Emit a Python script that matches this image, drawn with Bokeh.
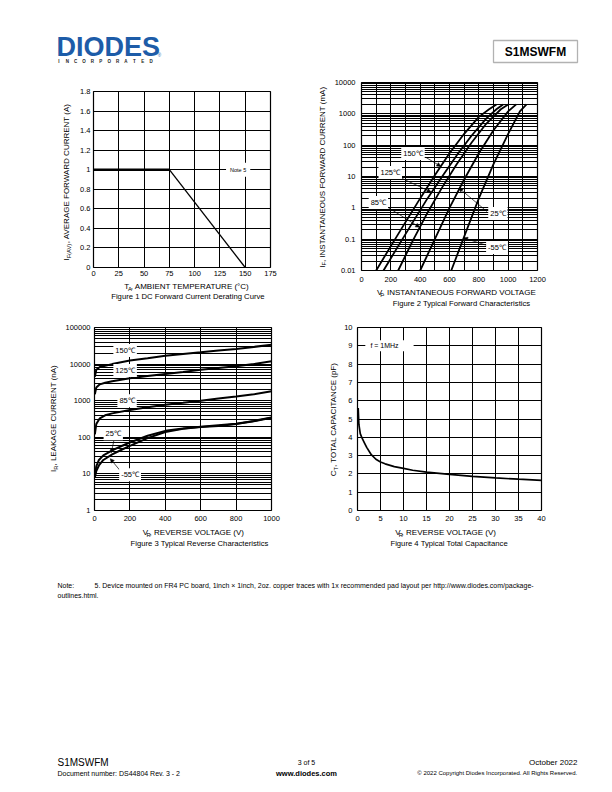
import math
from bokeh.plotting import figure
from bokeh.layouts import column, row
from bokeh.models import (Range1d, FixedTicker, CustomJSTickFormatter, Label, Arrow,
                          NormalHead, BoxAnnotation, Spacer)
from bokeh.core.properties import value
from bokeh.embed import file_html
from bokeh.resources import INLINE

FONT = "Liberation Sans"

# ---------------- data ----------------
# Figure 1: derating
derating_temp_c = [0, 75, 150]
derating_current_a = [1.0, 1.0, 0.0]
fig1_x_ticks = [0, 25, 50, 75, 100, 125, 150, 175]
fig1_y_ticks = [0, 0.2, 0.4, 0.6, 0.8, 1.0, 1.2, 1.4, 1.6, 1.8]

# Figure 2: forward characteristics (mV, mA)
fwd_labels = ["150℃", "125℃", "85℃", "25℃", "-55℃"]
fwd_v_150 = [100, 200, 300, 400, 500, 600, 700, 800, 870, 920]
fwd_i_150 = [0.01, 0.06, 0.35, 2.0, 11, 55, 230, 800, 1400, 2000]
fwd_v_125 = [150, 250, 350, 450, 550, 650, 750, 850, 920, 965]
fwd_i_125 = [0.01, 0.06, 0.35, 2.0, 10, 48, 200, 700, 1400, 2000]
fwd_v_85 = [250, 350, 450, 550, 650, 750, 850, 950, 1000]
fwd_i_85 = [0.01, 0.09, 0.7, 4.5, 25, 120, 480, 1400, 2000]
fwd_v_25 = [400, 500, 600, 700, 800, 900, 1000, 1055]
fwd_i_25 = [0.01, 0.1, 1.0, 8, 55, 300, 1200, 2000]
fwd_v_m55 = [612, 700, 800, 900, 1000, 1080, 1125]
fwd_i_m55 = [0.01, 0.12, 2.0, 25, 230, 1200, 2000]
fig2_x_ticks = [0, 200, 400, 600, 800, 1000, 1200]
fig2_y_ticks = [0.01, 0.1, 1, 10, 100, 1000, 10000]

# Figure 3: reverse characteristics (V, nA)
rev_labels = ["150℃", "125℃", "85℃", "25℃", "-55℃"]
rev_v_hot = [2, 10, 30, 60, 100, 200, 300, 400, 500, 600, 700, 800, 900, 1000]
rev_i_150 = [4500, 7000, 8300, 9000, 10000, 12500, 14500, 17000, 19000, 21000, 23500, 26000, 29500, 34000]
rev_i_125 = [1500, 2300, 2800, 3100, 3400, 4100, 4700, 5400, 6100, 7000, 7800, 8700, 10000, 12000]
rev_i_85 = [120, 230, 330, 400, 450, 560, 660, 780, 880, 1000, 1150, 1300, 1500, 1800]
rev_v_cold = [2, 10, 25, 50, 100, 150, 200, 300, 400, 500, 600, 700, 800, 900, 1000]
rev_i_25 = [9, 16, 24, 32, 44, 57, 72, 110, 150, 175, 195, 215, 235, 280, 350]
rev_i_m55 = [8, 12, 17, 24, 34, 45, 58, 95, 140, 170, 190, 205, 230, 275, 340]
fig3_x_ticks = [0, 200, 400, 600, 800, 1000]
fig3_y_ticks = [1, 10, 100, 1000, 10000, 100000]

# Figure 4: capacitance (V, pF)
cap_v = [0.15, 0.3, 0.6, 1, 1.5, 2, 3, 4, 5, 6, 8, 10, 12, 15, 20, 25, 30, 35, 40]
cap_pf = [5.6, 4.7, 4.2, 3.95, 3.7, 3.45, 3.05, 2.8, 2.65, 2.55, 2.4, 2.3, 2.2, 2.1, 1.97, 1.87, 1.78, 1.71, 1.65]
fig4_x_ticks = [0, 5, 10, 15, 20, 25, 30, 35, 40]
fig4_y_ticks = [0, 1, 2, 3, 4, 5, 6, 7, 8, 9, 10]

# ---------------- helpers ----------------
_W = {' ': 278, ',': 278, '.': 278, '(': 333, ')': 333, '-': 333, ':': 278, '/': 278,
      '°': 400, '×': 584, '©': 737}
for c in '0123456789':
    _W[c] = 556
_W.update(dict(A=667, B=667, C=722, D=722, E=667, F=611, G=778, H=722, I=278, J=500, K=667,
               L=556, M=833, N=722, O=778, P=667, Q=778, R=722, S=667, T=611, U=722, V=667,
               W=944, X=667, Y=667, Z=611))
_W.update(dict(a=556, b=556, c=500, d=556, e=556, f=278, g=556, h=556, i=222, j=222, k=500,
               l=222, m=833, n=556, o=556, p=556, q=556, r=333, s=500, t=278, u=556, v=500,
               w=722, x=500, y=500, z=500))


def text_width(s, size):
    return sum(_W.get(ch, 556) for ch in s) / 1000.0 * size


def text_fig(x0, x1, y0, y1):
    """A figure whose frame is its whole area, in page pixel coordinates (y down)."""
    p = figure(width=x1 - x0, height=y1 - y0, x_range=Range1d(x0, x1), y_range=Range1d(y1, y0),
               output_backend="svg", toolbar_location=None, min_border=0,
               x_axis_location=None, y_axis_location=None)
    p.outline_line_color = None
    p.background_fill_color = "white"
    p.border_fill_color = "white"
    p.grid.visible = False
    return p


def ptext(p, x, y, t, size, align="left", bold=False, color="black", angle=0.0):
    p.text(x=[x], y=[y], text=[t], angle=angle, text_font=value(FONT),
           text_font_size="%.2fpx" % size, text_font_style="bold" if bold else "normal",
           text_color=color, text_align=align, text_baseline="middle")


def rich_label(p, parts, cx, cy, size=8.0, vertical=False):
    sub_size = size * 0.72
    widths = [text_width(t, sub_size if s else size) for t, s in parts]
    total = sum(widths)
    pos = -total / 2.0
    for (t, s), w in zip(parts, widths):
        shift = 0.3 * size if s else 0.0
        if vertical:
            px, py, ang = cx + shift, cy - pos, math.pi / 2
        else:
            px, py, ang = cx + pos, cy + shift, 0.0
        ptext(p, px, py, t, sub_size if s else size, angle=ang)
        pos += w


LIN_FMT = "return Number(tick.toFixed(3)).toString();"
LOG_FMT = "return tick < 1 ? Number(tick.toPrecision(2)).toString() : tick.toFixed(0);"


def chart(width, height, xr, yr, borders, log_y=False):
    l, r, t, b = borders
    p = figure(width=width, height=height, x_range=Range1d(*xr), y_range=Range1d(*yr),
               y_axis_type="log" if log_y else "linear", output_backend="svg",
               toolbar_location=None, min_border_left=l, min_border_right=r,
               min_border_top=t, min_border_bottom=b)
    p.background_fill_color = "white"
    p.border_fill_color = "white"
    p.outline_line_color = "black"
    p.outline_line_width = 1.2
    p.outline_line_alpha = 1.0
    for ax in p.axis:
        ax.axis_line_color = None
        ax.major_tick_line_color = None
        ax.minor_tick_line_color = None
        ax.major_tick_out = 0
        ax.major_tick_in = 0
        ax.minor_tick_out = 0
        ax.minor_tick_in = 0
        ax.major_label_text_font = FONT
        ax.major_label_text_font_size = "7.5px"
        ax.major_label_text_color = "black"
    for g in p.grid:
        g.grid_line_color = "black"
        g.grid_line_width = 1
        g.grid_line_alpha = 1.0
    return p


def log_ticker(decades):
    minors = []
    for d in decades[:-1]:
        for k in range(2, 10):
            minors.append(d * k)
    return FixedTicker(ticks=decades, minor_ticks=minors)


def curve_label(p, text, x, y, size="7.5px"):
    p.add_layout(Label(x=x, y=y, text=text, text_font=FONT, text_font_size=size,
                       text_align="center", text_baseline="middle", text_color="black",
                       background_fill_color="white", background_fill_alpha=1.0, padding=2))


def arrow(p, x0, y0, x1, y1):
    p.add_layout(Arrow(end=NormalHead(size=4, fill_color="black", line_color="black",
                                      line_width=0.5),
                       x_start=x0, y_start=y0, x_end=x1, y_end=y1,
                       line_color="black", line_width=0.7))


# ---------------- header ----------------
head = text_fig(0, 612, 0, 78)
ptext(head, 56, 46.5, "DIODES", 27, bold=True, color="#1d5ca8")
inc = list("INCORPORATED")
head.text(x=[58.5 + i * (150.5 - 58.5) / 11 for i in range(12)], y=[60.5] * 12, text=inc,
          text_font=value(FONT), text_font_size="4.5px", text_font_style="bold",
          text_color="#222222", text_align="center", text_baseline="middle")
ptext(head, 159, 55, "®", 4.5, align="center", color="#1d5ca8")
head.add_layout(BoxAnnotation(left=493, right=577, top=40, bottom=62, fill_alpha=0,
                              line_color="black", line_width=1.3))
ptext(head, 535, 51, "S1MSWFM", 12, align="center", bold=True)

# ---------------- row 1 ----------------
# Figure 1 (frame page x 93..270, y 91..267)
p1 = chart(231, 195, (0, 175), (0, 1.8), (18, 36, 4, 15))
p1.xaxis.ticker = FixedTicker(ticks=fig1_x_ticks)
p1.yaxis.ticker = FixedTicker(ticks=fig1_y_ticks)
p1.xgrid.ticker = FixedTicker(ticks=fig1_x_ticks)
p1.ygrid.ticker = FixedTicker(ticks=fig1_y_ticks)
p1.xaxis.formatter = CustomJSTickFormatter(code=LIN_FMT)
p1.yaxis.formatter = CustomJSTickFormatter(code=LIN_FMT)
p1.xaxis.major_label_standoff = 3
p1.yaxis.major_label_standoff = 3
p1.line(derating_temp_c[:2], derating_current_a[:2], line_color="black", line_width=2.6)
p1.line(derating_temp_c[1:], derating_current_a[1:], line_color="black", line_width=1.3)
p1.add_layout(Label(x=143, y=1.0, text="Note 5", text_font=FONT, text_font_size="5.5px",
                    text_align="center", text_baseline="middle", text_color="black",
                    background_fill_color="white", background_fill_alpha=1.0, padding=4))
ylab1 = text_fig(0, 75, 78, 312)
rich_label(ylab1, [("I", 0), ("F(AV)", 1), (", AVERAGE FORWARD CURRENT (A)", 0)], 66, 181,
           vertical=True)
xlab1 = text_fig(75, 306, 282, 312)
rich_label(xlab1, [("T", 0), ("A", 1), (", AMBIENT TEMPERATURE (°C)", 0)], 179, 286)
rich_label(xlab1, [("Figure 1  DC Forward Current Derating Curve", 0)], 176, 296, size=7.7)

# Figure 2 (frame page x 359..537, y 82..270)
p2 = chart(281, 208, (0, 1200), (0.01, 10000), (28, 75, 4, 16), log_y=True)
p2.xaxis.ticker = FixedTicker(ticks=fig2_x_ticks)
p2.xgrid.ticker = FixedTicker(ticks=list(range(0, 1201, 100)))
yt2 = log_ticker(fig2_y_ticks)
p2.yaxis.ticker = yt2
p2.ygrid.ticker = yt2
p2.ygrid.minor_grid_line_color = "black"
p2.ygrid.minor_grid_line_width = 1
p2.xaxis.formatter = CustomJSTickFormatter(code=LIN_FMT)
p2.yaxis.formatter = CustomJSTickFormatter(code=LOG_FMT)
p2.xaxis.major_label_standoff = 6
p2.yaxis.major_label_standoff = 6
for vx, iy in [(fwd_v_150, fwd_i_150), (fwd_v_125, fwd_i_125), (fwd_v_85, fwd_i_85),
               (fwd_v_25, fwd_i_25), (fwd_v_m55, fwd_i_m55)]:
    p2.line(vx, iy, line_color="black", line_width=1.8)
fig2_label_pos = [(351, 54), (196, 13.4), (115, 1.48), (930, 0.66), (924, 0.054)]
fig2_arrows = [(438, 41, 541, 21), (236, 10.7, 474, 3.2), (162, 1.17, 396, 0.24),
               (856, 0.76, 664, 4.3), (856, 0.063, 697, 0.11)]
for a in fig2_arrows:
    arrow(p2, *a)
for txt, (lx, ly) in zip(fwd_labels, fig2_label_pos):
    curve_label(p2, txt, lx, ly)
ylab2 = text_fig(306, 331, 78, 312)
rich_label(ylab2, [("I", 0), ("F", 1), (", INSTANTANEOUS FORWARD CURRENT (mA)", 0)], 321.5, 176,
           vertical=True)
xlab2 = text_fig(331, 612, 286, 312)
rich_label(xlab2, [("V", 0), ("F", 1), (", INSTANTANEOUS FORWARD VOLTAGE (mV)", 0)], 448, 292)
rich_label(xlab2, [("Figure 2 Typical Forward Characteristics", 0)], 450, 303, size=7.7)

# ---------------- row 2 ----------------
# Figure 3 (frame page x 92..271, y 327..510)
p3 = chart(244, 214, (0, 1000), (1, 100000), (30, 35, 15, 16), log_y=True)
p3.xaxis.ticker = FixedTicker(ticks=fig3_x_ticks)
p3.xgrid.ticker = FixedTicker(ticks=fig3_x_ticks)
yt3 = log_ticker(fig3_y_ticks)
p3.yaxis.ticker = yt3
p3.ygrid.ticker = yt3
p3.ygrid.minor_grid_line_color = "black"
p3.ygrid.minor_grid_line_width = 1
p3.xaxis.formatter = CustomJSTickFormatter(code=LIN_FMT)
p3.yaxis.formatter = CustomJSTickFormatter(code=LOG_FMT)
p3.xaxis.major_label_standoff = 5
p3.yaxis.major_label_standoff = 4
for vx, iy in [(rev_v_hot, rev_i_150), (rev_v_hot, rev_i_125), (rev_v_hot, rev_i_85),
               (rev_v_cold, rev_i_25), (rev_v_cold, rev_i_m55)]:
    p3.line(vx, iy, line_color="black", line_width=2.0)
fig3_label_pos = [(173, 23500), (173, 6700), (184, 1000), (106, 125), (201, 9.5)]
fig3_arrows = [(112, 93, 95, 38), (145, 12.3, 89, 26)]
for a in fig3_arrows:
    arrow(p3, *a)
for txt, (lx, ly) in zip(rev_labels, fig3_label_pos):
    curve_label(p3, txt, lx, ly)
ylab3 = text_fig(0, 62, 312, 560)
rich_label(ylab3, [("I", 0), ("R", 1), (", LEAKAGE CURRENT (nA)", 0)], 53, 418, vertical=True)
xlab3 = text_fig(62, 306, 526, 560)
rich_label(xlab3, [("V", 0), ("R", 1), (", REVERSE VOLTAGE (V)", 0)], 181, 532)
rich_label(xlab3, [("Figure 3 Typical Reverse Characteristics", 0)], 181, 543, size=7.7)

# Figure 4 (frame page x 357..541, y 327..510)
p4 = chart(271, 214, (0, 40), (0, 10), (16, 71, 15, 16))
p4.xaxis.ticker = FixedTicker(ticks=fig4_x_ticks)
p4.yaxis.ticker = FixedTicker(ticks=fig4_y_ticks)
p4.xgrid.ticker = FixedTicker(ticks=fig4_x_ticks)
p4.ygrid.ticker = FixedTicker(ticks=fig4_y_ticks)
p4.xaxis.formatter = CustomJSTickFormatter(code=LIN_FMT)
p4.yaxis.formatter = CustomJSTickFormatter(code=LIN_FMT)
p4.xaxis.major_label_standoff = 5
p4.yaxis.major_label_standoff = 5
p4.line(cap_v, cap_pf, line_color="black", line_width=1.7)
p4.add_layout(BoxAnnotation(left=1.7, right=12.2, bottom=8.7, top=9.3, fill_color="white",
                            fill_alpha=1.0, line_color=None))
p4.add_layout(Label(x=2.8, y=9.0, text="f = 1MHz", text_font=FONT, text_font_size="7px",
                    text_align="left", text_baseline="middle", text_color="black"))
ylab4 = text_fig(306, 341, 312, 560)
rich_label(ylab4, [("C", 0), ("T", 1), (", TOTAL CAPACITANCE (pF)", 0)], 333, 418, vertical=True)
xlab4 = text_fig(341, 612, 526, 560)
rich_label(xlab4, [("V", 0), ("R", 1), (", REVERSE VOLTAGE (V)", 0)], 449, 532)
rich_label(xlab4, [("Figure 4 Typical Total Capacitance", 0)], 449, 543, size=7.7)

# ---------------- note + footer ----------------
foot = text_fig(0, 612, 560, 792)
note_txt = ("5. Device mounted on FR4 PC board, 1inch × 1inch, 2oz. copper traces with 1x "
            "recommended pad layout per http://www.diodes.com/package-")
note_size = (534 - 94) / text_width(note_txt, 1.0)
ptext(foot, 57, 585, "Note:", note_size)
ptext(foot, 94, 585, note_txt, note_size)
ptext(foot, 57, 595, "outlines.html.", note_size)
ptext(foot, 57, 762, "S1MSWFM", 10)
ptext(foot, 57, 773, "Document number: DS44804 Rev. 3 - 2", 7)
ptext(foot, 306, 762, "3 of 5", 7, align="center")
ptext(foot, 306, 772.5, "www.diodes.com", 7.5, align="center", bold=True)
ptext(foot, 577, 762, "October 2022", 8, align="right")
ptext(foot, 577, 772, "© 2022 Copyright Diodes Incorporated. All Rights Reserved.", 6,
      align="right")

row1 = row(ylab1, column(Spacer(width=231, height=9), p1, xlab1),
           ylab2, column(p2, xlab2))
row2 = row(ylab3, column(p3, xlab3), ylab4, column(p4, xlab4))
page = column(head, row1, row2, foot)
open("out.html", "w").write(file_html(page, INLINE))
